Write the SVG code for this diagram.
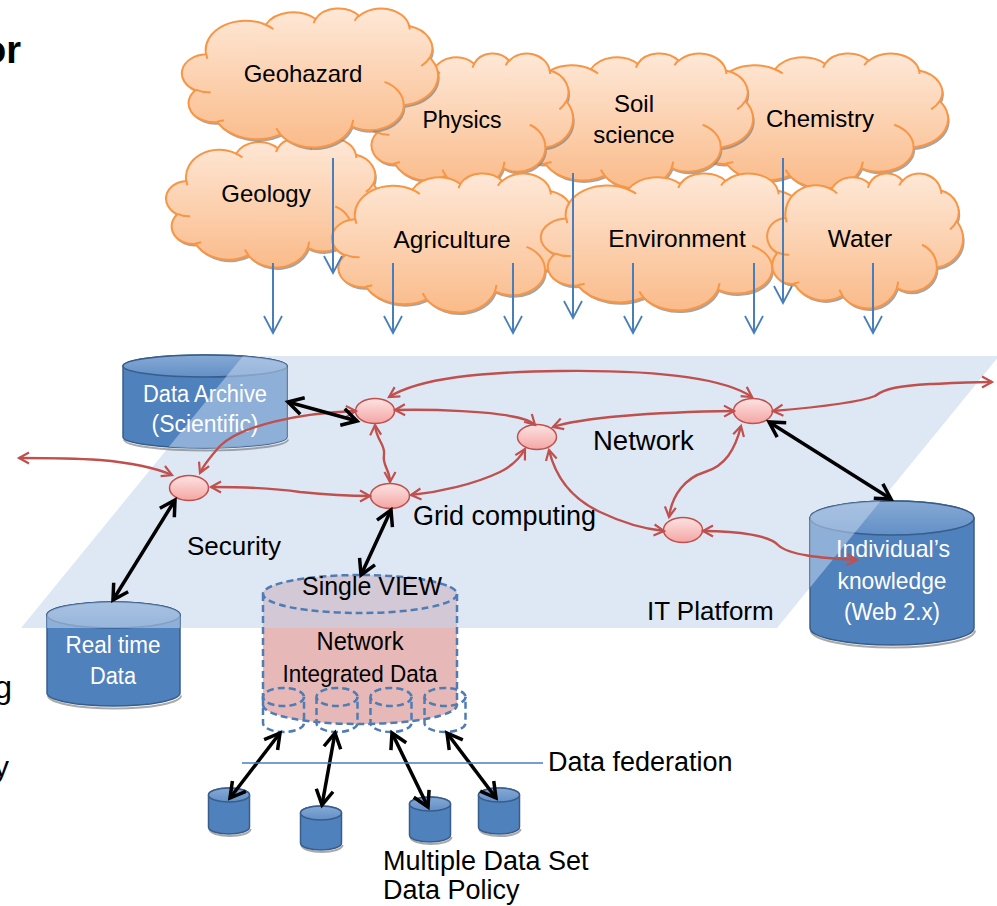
<svg xmlns="http://www.w3.org/2000/svg" width="997" height="906" viewBox="0 0 997 906">
<style>
text{font-family:"Liberation Sans",Arial,sans-serif;fill:#000}
.c{text-anchor:middle}
.w{fill:#fff}
.cloudBody{fill:url(#gCloud);stroke:#f79646;stroke-width:2}
.cloudHook{fill:none;stroke:#f79646;stroke-width:2}
.cloudShadow{fill:#7f7f7f;opacity:.7}
.plat{fill:#c3d5ec;fill-opacity:.55}
.cylBody{fill:#4f81bd;stroke:#385d8a;stroke-width:1.5}
.cylTop{fill:url(#gCylTop);stroke:#385d8a;stroke-width:1.5}
.cylShadow{fill:none;stroke:#707070;stroke-width:2;opacity:.6}
.pink{fill:#e6b9b8}
.dash{fill:none;stroke:#4f7db3;stroke-width:2.5;stroke-dasharray:7 4}
.node{fill:url(#gNode);stroke:#c0504d;stroke-width:1.5}
.blue{fill:none;stroke:#4a7ebb;stroke-width:2;marker-end:url(#hBlue)}
.red{fill:none;stroke:#c0504d;stroke-width:2.4;marker-start:url(#hRed);marker-end:url(#hRed)}
.blk{fill:none;stroke:#000;stroke-width:3.5;marker-start:url(#hBlack);marker-end:url(#hBlack)}
</style>
<defs>
  <linearGradient id="gCloud" x1="0" y1="0" x2="0" y2="1">
    <stop offset="0" stop-color="#fee8d7"/>
    <stop offset="1" stop-color="#fabb8a"/>
  </linearGradient>
  <linearGradient id="gNode" x1="0" y1="0" x2="0" y2="1">
    <stop offset="0" stop-color="#fde3e2"/>
    <stop offset="1" stop-color="#f3a6a4"/>
  </linearGradient>
  <linearGradient id="gCylTop" x1="0" y1="0" x2="0" y2="1">
    <stop offset="0" stop-color="#86a9d4"/>
    <stop offset="1" stop-color="#6390c7"/>
  </linearGradient>
  <!-- cloud outline in a 100x100 box, scaled per instance -->
  <path id="cloudShape" vector-effect="non-scaling-stroke" d="M9.03,33.26 A15.63,21.27 0 0 1 32.42,12.04 A12.34,16.82 0 0 1 51.98,7.94 A10.10,13.76 0 0 1 69.06,5.75 A11.24,15.27 0 0 1 88.70,12.91 A12.34,16.84 0 0 1 96.80,35.79 A15.68,21.34 0 0 1 86.59,69.92 A13.39,18.21 0 0 1 66.10,85.22 A15.63,21.33 0 0 1 38.15,90.90 A17.87,24.41 0 0 1 13.44,82.12 A10.09,13.70 0 0 1 4.89,59.15 A10.06,13.76 0 0 1 9.03,33.26 Z"/>
  <path id="cloudHooks" vector-effect="non-scaling-stroke" d="M10.86,60.60 A10.06,13.76 0 0 1 5.00,58.75 M16.04,80.79 A10.09,13.70 0 0 1 13.47,81.67 M38.14,90.49 A15.63,21.33 0 0 1 36.60,86.46 M66.73,80.44 A15.63,21.33 0 0 1 66.11,84.86 M79.00,53.13 A13.39,18.21 0 0 1 86.53,69.65 M96.75,35.54 A12.34,16.84 0 0 1 93.40,41.74 M88.71,12.56 A11.24,15.27 0 0 1 88.89,15.49 M67.31,9.15 A11.24,15.27 0 0 1 69.03,5.41 M51.25,10.93 A10.10,13.76 0 0 1 52.08,7.71 M32.41,12.02 A15.63,21.27 0 0 1 35.42,15.14 M9.55,36.55 A15.63,21.27 0 0 1 9.18,33.28"/>
  <polygon id="platShape" points="243,356 999,356 777,628 21,628"/>
  <clipPath id="clipArchive"><path d="M123,366 A82,11 0 0 1 287,366 L287,437 A82,11 0 0 1 123,437 Z"/></clipPath>
  <clipPath id="clipRealtime"><path d="M47,615 A66.5,13 0 0 1 180,615 L180,693 A66.5,13 0 0 1 47,693 Z"/></clipPath>
  <clipPath id="clipIndividual"><path d="M810,518 A82,17 0 0 1 974,518 L974,628 A82,17 0 0 1 810,628 Z"/></clipPath>
  <clipPath id="clipView"><path d="M263,594 A97,19 0 0 1 457,594 L457,705 A97,19 0 0 1 263,705 Z"/></clipPath>
  <marker id="hBlue" markerUnits="userSpaceOnUse" viewBox="-20 -12 24 24" markerWidth="24" markerHeight="24" refX="0" refY="0" orient="auto">
    <path d="M-17,-9 L0,0 L-17,9" fill="none" stroke="#4a7ebb" stroke-width="1.8"/>
  </marker>
  <marker id="hRed" markerUnits="userSpaceOnUse" viewBox="-14 -9 18 18" markerWidth="18" markerHeight="18" refX="0" refY="0" orient="auto-start-reverse">
    <path d="M-10,-5.5 L0,0 L-10,5.5" fill="none" stroke="#c0504d" stroke-width="2.2"/>
  </marker>
  <marker id="hBlack" markerUnits="userSpaceOnUse" viewBox="-20 -13 26 26" markerWidth="26" markerHeight="26" refX="0" refY="0" orient="auto-start-reverse">
    <path d="M-15,-8.5 L0,0 L-15,8.5" fill="none" stroke="#000" stroke-width="3.5"/>
  </marker>
</defs>

<rect width="997" height="906" fill="#fff"/>

<!-- text running off the left edge -->
<g id="edge-text">
  <text x="21" y="63" text-anchor="end" font-size="38" font-weight="bold">or</text>
  <text x="12" y="698" text-anchor="end" font-size="32">g</text>
  <text x="9" y="777" text-anchor="end" font-size="30">y</text>
</g>

<!-- domain clouds, back to front -->
<g id="cloud-chemistry">
  <use href="#cloudShape" class="cloudShadow" transform="translate(693.5,55.5) scale(2.56,1.35)"/>
  <use href="#cloudShape" class="cloudBody" transform="translate(692,53) scale(2.56,1.35)"/>
  <use href="#cloudHooks" class="cloudHook" transform="translate(692,53) scale(2.56,1.35)"/>
  <text x="820" y="127" class="c" font-size="24">Chemistry</text>
</g>
<g id="cloud-soil">
  <use href="#cloudShape" class="cloudShadow" transform="translate(514.5,55.5) scale(2.40,1.35)"/>
  <use href="#cloudShape" class="cloudBody" transform="translate(513,53) scale(2.40,1.35)"/>
  <use href="#cloudHooks" class="cloudHook" transform="translate(513,53) scale(2.40,1.35)"/>
  <text x="634" y="112" class="c" font-size="24">Soil</text>
  <text x="634" y="143" class="c" font-size="24">science</text>
</g>
<g id="cloud-physics">
  <use href="#cloudShape" class="cloudShadow" transform="translate(368.5,55.5) scale(2.06,1.35)"/>
  <use href="#cloudShape" class="cloudBody" transform="translate(367,53) scale(2.06,1.35)"/>
  <use href="#cloudHooks" class="cloudHook" transform="translate(367,53) scale(2.06,1.35)"/>
  <text x="462" y="128" class="c" font-size="23">Physics</text>
</g>
<g id="cloud-geology">
  <use href="#cloudShape" class="cloudShadow" transform="translate(168.5,140.5) scale(2.13,1.29)"/>
  <use href="#cloudShape" class="cloudBody" transform="translate(167,138) scale(2.13,1.29)"/>
  <use href="#cloudHooks" class="cloudHook" transform="translate(167,138) scale(2.13,1.29)"/>
  <text x="266" y="202" class="c" font-size="24">Geology</text>
</g>
<g id="cloud-geohazard">
  <use href="#cloudShape" class="cloudShadow" transform="translate(184.5,10.5) scale(2.55,1.39)"/>
  <use href="#cloudShape" class="cloudBody" transform="translate(183,8) scale(2.55,1.39)"/>
  <use href="#cloudHooks" class="cloudHook" transform="translate(183,8) scale(2.55,1.39)"/>
  <text x="303" y="82" class="c" font-size="24">Geohazard</text>
</g>
<g id="cloud-agriculture">
  <use href="#cloudShape" class="cloudShadow" transform="translate(334.5,175.5) scale(2.45,1.39)"/>
  <use href="#cloudShape" class="cloudBody" transform="translate(333,173) scale(2.45,1.39)"/>
  <use href="#cloudHooks" class="cloudHook" transform="translate(333,173) scale(2.45,1.39)"/>
  <text x="452" y="248" class="c" font-size="24.5">Agriculture</text>
</g>
<g id="cloud-environment">
  <use href="#cloudShape" class="cloudShadow" transform="translate(543.5,175.5) scale(2.66,1.37)"/>
  <use href="#cloudShape" class="cloudBody" transform="translate(542,173) scale(2.66,1.37)"/>
  <use href="#cloudHooks" class="cloudHook" transform="translate(542,173) scale(2.66,1.37)"/>
  <text x="677" y="247" class="c" font-size="24.5">Environment</text>
</g>
<g id="cloud-water">
  <use href="#cloudShape" class="cloudShadow" transform="translate(769.5,175.5) scale(1.95,1.35)"/>
  <use href="#cloudShape" class="cloudBody" transform="translate(768,173) scale(1.95,1.35)"/>
  <use href="#cloudHooks" class="cloudHook" transform="translate(768,173) scale(1.95,1.35)"/>
  <text x="860" y="247" class="c" font-size="24.5">Water</text>
</g>

<!-- IT platform plane -->
<g id="it-platform">
  <use href="#platShape" class="plat"/>
  <text x="647" y="620" font-size="26">IT Platform</text>
</g>

<!-- data stores -->
<g id="data-archive">
  <path class="cylShadow" d="M124,439.5 A82,11 0 0 0 288,439.5"/>
  <path class="cylBody" d="M123,366 L123,437 A82,11 0 0 0 287,437 L287,366 A82,11 0 0 0 123,366 Z"/>
  <ellipse class="cylTop" cx="205" cy="366" rx="82" ry="11"/>
  <use href="#platShape" class="plat" clip-path="url(#clipArchive)"/>
  <text x="205" y="402" class="c w" font-size="23" textLength="124" lengthAdjust="spacingAndGlyphs">Data Archive</text>
  <text x="205" y="432" class="c w" font-size="23" textLength="107" lengthAdjust="spacingAndGlyphs">(Scientific)</text>
</g>
<g id="realtime-data">
  <path class="cylShadow" d="M48,695.5 A66.5,13 0 0 0 181,695.5"/>
  <path class="cylBody" d="M47,615 L47,693 A66.5,13 0 0 0 180,693 L180,615 A66.5,13 0 0 0 47,615 Z"/>
  <ellipse class="cylTop" cx="113.5" cy="615" rx="66.5" ry="13"/>
  <use href="#platShape" class="plat" clip-path="url(#clipRealtime)"/>
  <text x="113" y="653" class="c w" font-size="23.5" textLength="95" lengthAdjust="spacingAndGlyphs">Real time</text>
  <text x="113" y="684" class="c w" font-size="23.5" textLength="46" lengthAdjust="spacingAndGlyphs">Data</text>
</g>
<g id="individual-knowledge">
  <path class="cylShadow" d="M811,630.5 A82,17 0 0 0 975,630.5"/>
  <path class="cylBody" d="M810,518 L810,628 A82,17 0 0 0 974,628 L974,518 A82,17 0 0 0 810,518 Z"/>
  <ellipse class="cylTop" cx="892" cy="518" rx="82" ry="17"/>
  <use href="#platShape" class="plat" clip-path="url(#clipIndividual)"/>
  <text x="893" y="557" class="c w" font-size="24" textLength="114" lengthAdjust="spacingAndGlyphs">Individual’s</text>
  <text x="892" y="589" class="c w" font-size="24" textLength="109" lengthAdjust="spacingAndGlyphs">knowledge</text>
  <text x="892" y="620" class="c w" font-size="23.5" textLength="96" lengthAdjust="spacingAndGlyphs">(Web 2.x)</text>
</g>
<g id="single-view">
  <path class="pink" d="M263,594 A97,19 0 0 1 457,594 L457,705 A97,19 0 0 1 263,705 Z"/>
  <use href="#platShape" class="plat" clip-path="url(#clipView)"/>
  <ellipse class="dash" cx="360" cy="594" rx="97" ry="19"/>
  <path class="dash" d="M263,594 L263,705 M457,594 L457,705 M263,705 A97,19 0 0 0 457,705"/>
  <g id="federated-slots">
    <ellipse class="dash" cx="283.5" cy="697" rx="20.5" ry="9" stroke-dasharray="5 3"/>
    <path class="dash" stroke-dasharray="5 3" d="M263,697 L263,723 A20.5,9 0 0 0 304,723 L304,697"/>
    <ellipse class="dash" cx="337" cy="697" rx="20.5" ry="9" stroke-dasharray="5 3"/>
    <path class="dash" stroke-dasharray="5 3" d="M316.5,697 L316.5,723 A20.5,9 0 0 0 357.5,723 L357.5,697"/>
    <ellipse class="dash" cx="391" cy="697" rx="20.5" ry="9" stroke-dasharray="5 3"/>
    <path class="dash" stroke-dasharray="5 3" d="M370.5,697 L370.5,723 A20.5,9 0 0 0 411.5,723 L411.5,697"/>
    <ellipse class="dash" cx="445" cy="697" rx="20.5" ry="9" stroke-dasharray="5 3"/>
    <path class="dash" stroke-dasharray="5 3" d="M424.5,697 L424.5,723 A20.5,9 0 0 0 465.5,723 L465.5,697"/>
  </g>
  <text x="372" y="595" class="c" font-size="26" textLength="140" lengthAdjust="spacingAndGlyphs">Single VIEW</text>
  <text x="360" y="650" class="c" font-size="25" textLength="87" lengthAdjust="spacingAndGlyphs">Network</text>
  <text x="360" y="682" class="c" font-size="24.5" textLength="155" lengthAdjust="spacingAndGlyphs">Integrated Data</text>
</g>
<g id="data-set-1">
  <path class="cylShadow" d="M209.5,829 A20.5,7 0 0 0 250.5,829"/>
  <path class="cylBody" d="M208.5,795 L208.5,827 A20.5,7 0 0 0 249.5,827 L249.5,795 A20.5,7 0 0 0 208.5,795 Z"/>
  <ellipse class="cylTop" cx="229" cy="795" rx="20.5" ry="7"/>
</g>
<g id="data-set-2">
  <path class="cylShadow" d="M301.5,845 A20.5,7 0 0 0 342.5,845"/>
  <path class="cylBody" d="M300.5,813 L300.5,843 A20.5,7 0 0 0 341.5,843 L341.5,813 A20.5,7 0 0 0 300.5,813 Z"/>
  <ellipse class="cylTop" cx="321" cy="813" rx="20.5" ry="7"/>
</g>
<g id="data-set-3">
  <path class="cylShadow" d="M410.5,837 A20.5,7 0 0 0 451.5,837"/>
  <path class="cylBody" d="M409.5,804 L409.5,835 A20.5,7 0 0 0 450.5,835 L450.5,804 A20.5,7 0 0 0 409.5,804 Z"/>
  <ellipse class="cylTop" cx="430" cy="804" rx="20.5" ry="7"/>
</g>
<g id="data-set-4">
  <path class="cylShadow" d="M479.5,829 A20.5,7 0 0 0 520.5,829"/>
  <path class="cylBody" d="M478.5,795 L478.5,827 A20.5,7 0 0 0 519.5,827 L519.5,795 A20.5,7 0 0 0 478.5,795 Z"/>
  <ellipse class="cylTop" cx="499" cy="795" rx="20.5" ry="7"/>
</g>

<!-- network hubs -->
<g id="hub-archive"><ellipse class="node" cx="375" cy="411" rx="19.5" ry="12.5"/></g>
<g id="hub-security"><ellipse class="node" cx="189" cy="488" rx="19.5" ry="12.5"/></g>
<g id="hub-grid"><ellipse class="node" cx="390" cy="496" rx="19.5" ry="12.5"/></g>
<g id="hub-network"><ellipse class="node" cx="537" cy="437" rx="19.5" ry="12.5"/></g>
<g id="hub-east"><ellipse class="node" cx="753" cy="411" rx="19.5" ry="12.5"/></g>
<g id="hub-south"><ellipse class="node" cx="683" cy="530" rx="19.5" ry="12.5"/></g>

<!-- labels on the plane -->
<g id="labels">
  <text x="187" y="555" font-size="26">Security</text>
  <text x="413" y="525" font-size="27">Grid computing</text>
  <text x="593" y="450" font-size="27.5">Network</text>
  <text x="548" y="771" font-size="27">Data federation</text>
  <text x="383" y="870" font-size="27">Multiple Data Set</text>
  <text x="383" y="899" font-size="27">Data Policy</text>
</g>

<g id="connectors">
  <!-- cloud feeds down to the platform -->
  <line class="blue" x1="273" y1="263" x2="273" y2="333"/>
  <line class="blue" x1="333" y1="158" x2="333" y2="273"/>
  <line class="blue" x1="393" y1="263" x2="393" y2="333"/>
  <line class="blue" x1="513" y1="263" x2="513" y2="333"/>
  <line class="blue" x1="573" y1="173" x2="573" y2="318"/>
  <line class="blue" x1="633" y1="263" x2="633" y2="333"/>
  <line class="blue" x1="754" y1="263" x2="754" y2="333"/>
  <line class="blue" x1="783" y1="158" x2="783" y2="303"/>
  <line class="blue" x1="873" y1="263" x2="873" y2="333"/>
  <!-- network links -->
  <path class="red" d="M172,475 C158,469 135,463 100,460 C70,458 42,458 19,458"/>
  <path class="red" d="M356,411 C300,413 242,425 220,446 C212,455 204,464 200,473"/>
  <path class="red" d="M211,487 C250,487 280,489 300,492 C330,495 348,496 370,496"/>
  <path class="red" d="M375,425 C376,440 386,445 384,455 C382,465 390,470 390,482"/>
  <path class="red" d="M395,410 C440,409 490,412 510,416 C522,418 530,420 535,425"/>
  <path class="red" d="M389,397 C420,378 480,372 560,371 C650,370 722,377 752,397"/>
  <path class="red" d="M553,427 C580,418 650,412 734,411"/>
  <path class="red" d="M411,495 C440,492 475,484 500,472 C512,466 520,458 525,449"/>
  <path class="red" d="M549,450 C555,475 570,498 600,512 C625,524 645,529 664,531"/>
  <path class="red" d="M669,517 C672,495 685,478 705,472 C725,466 735,450 741,426"/>
  <path class="red" d="M703,531 C740,531 770,536 778,545 C788,555 820,558 857,560"/>
  <path class="red" d="M773,411 C820,407 860,402 875,396 C885,388 900,386 930,384 C955,383 975,382 992,382"/>
  <!-- store access links -->
  <line class="blk" x1="288" y1="402" x2="357" y2="421"/>
  <line class="blk" x1="175" y1="500" x2="113" y2="600"/>
  <line class="blk" x1="391" y1="510" x2="361" y2="575"/>
  <line class="blk" x1="769" y1="422" x2="891" y2="499"/>
  <line class="blk" x1="280" y1="733" x2="230" y2="798"/>
  <line class="blk" x1="335" y1="733" x2="322" y2="805"/>
  <line class="blk" x1="392" y1="733" x2="428" y2="807"/>
  <line class="blk" x1="447" y1="733" x2="496" y2="798"/>
  <!-- federation boundary -->
  <line x1="242" y1="763" x2="543" y2="763" stroke="#4a7ebb" stroke-width="1.5"/>
</g>
</svg>
